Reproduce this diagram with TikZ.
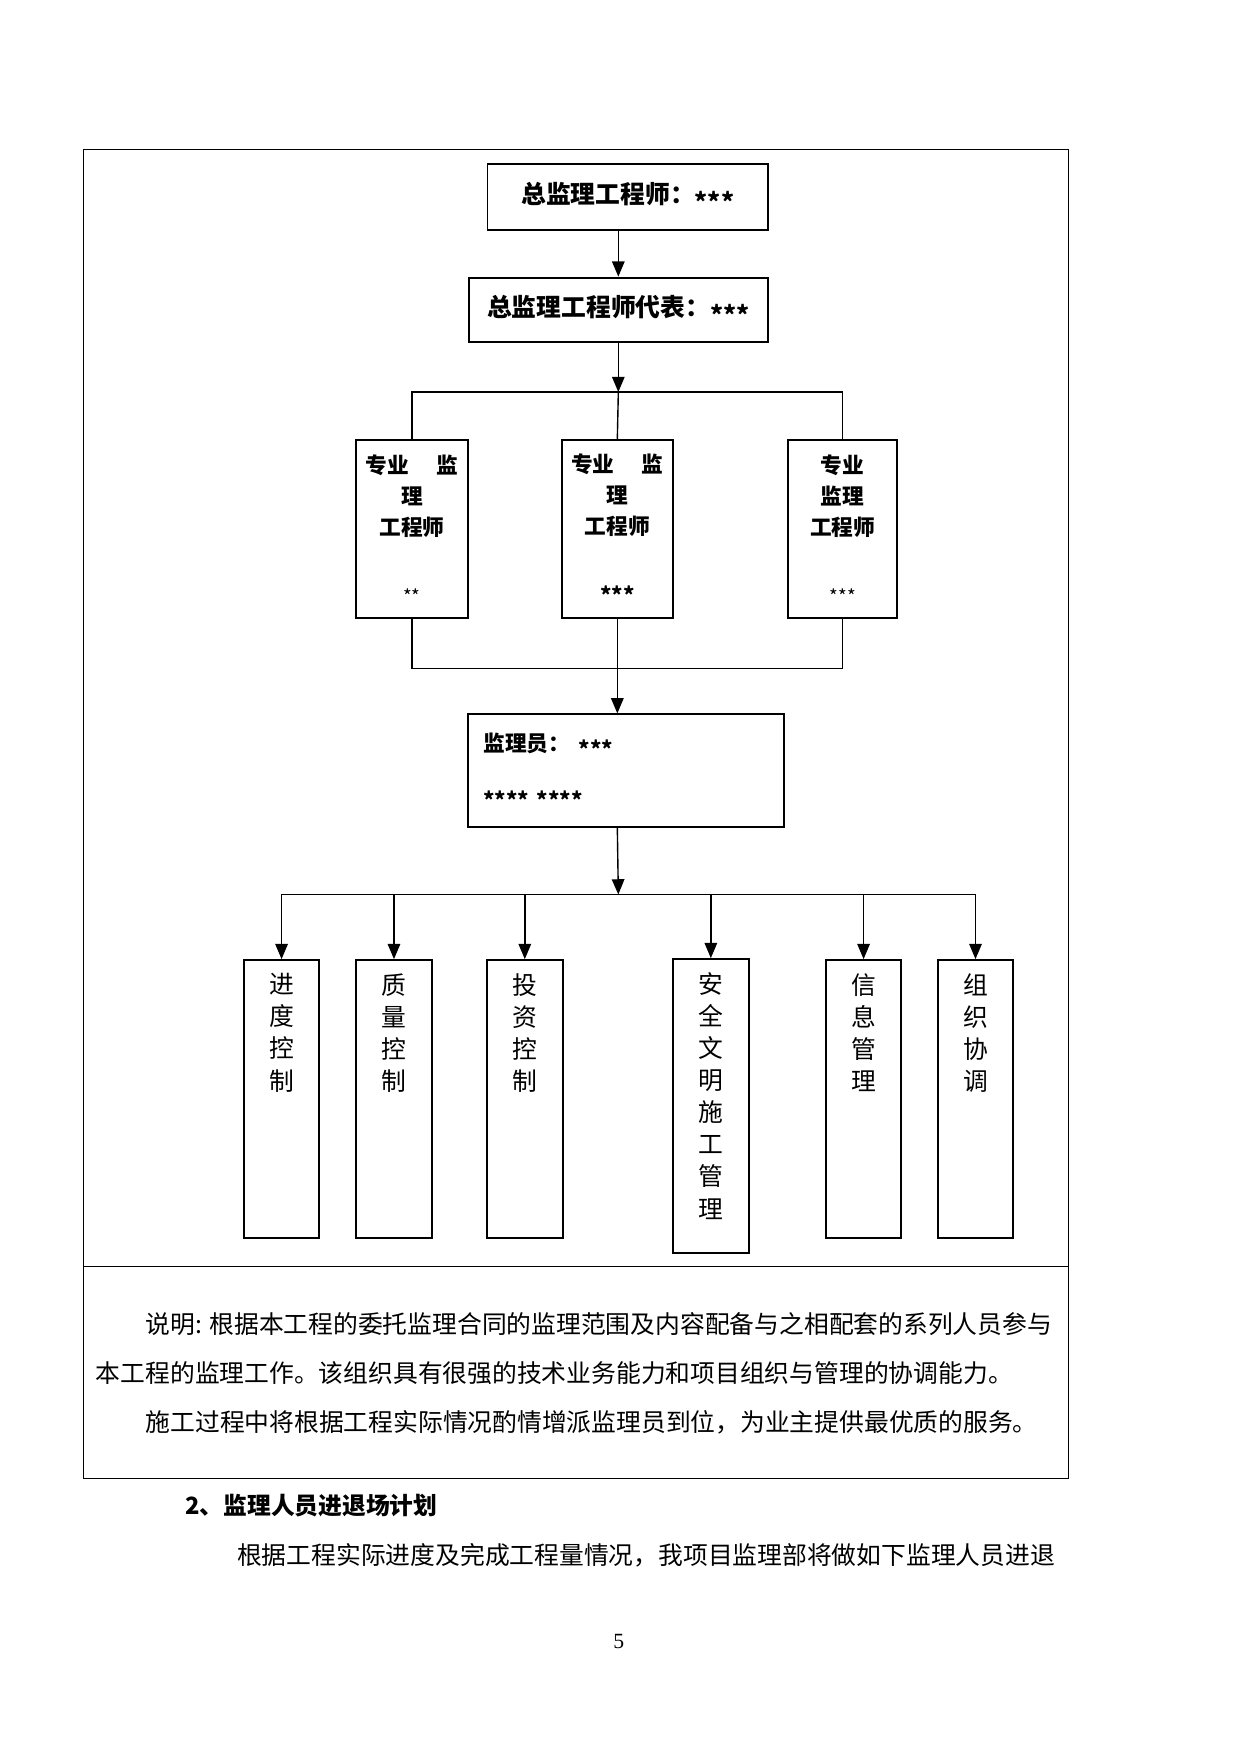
\documentclass[tikz,border=0pt]{standalone}
\usepackage{fontspec}
\setmainfont{Liberation Serif}
\newfontfamily\cjk{Noto Sans CJK SC}
\usepackage{tikz}
\usetikzlibrary{positioning, arrows}
\newcommand{\pxu}{0.48bp}
\newcommand{\lowstar}[1]{\raisebox{-0.3em}{#1}}
\tikzset {
    x=0.48bp,
    y=-0.48bp,
    >=triangle 45,
    link/.style={line width=0.67bp},
    frame/.style={line width=0.6bp},
    headbox/.style={draw, line width=0.96bp, inner sep=0pt,
        font=\cjk\bfseries\fontsize{12}{15}\selectfont},
    majorbox/.style={draw, line width=0.96bp, inner sep=0pt, align=center,
        minimum height=179*\pxu, font=\cjk\bfseries\fontsize{10.5}{15.1}\selectfont},
    colbox/.style={draw, line width=0.96bp, minimum width=76*\pxu, minimum height=279*\pxu},
    coltext/.style={inner sep=0pt, align=center, font=\cjk\fontsize{12}{15.55}\selectfont},
    bodytext/.style={inner sep=0pt, anchor=west, font=\cjk\fontsize{12}{15}\selectfont}
}

\begin{document}
\begin{tikzpicture}
                            \useasboundingbox (0,0) rectangle (1247,1763);

                            \draw[frame] (84,150) rectangle (1074,1486);
                            \draw[frame] (84,1273) -- (1074,1273);

                            \node[headbox, minimum width=282*\pxu, minimum height=66*\pxu] (zj) at (631,198) {总监理工程师：\lowstar{***}};
                            \node[headbox, minimum width=301*\pxu, minimum height=65*\pxu] (zjdb) at (621.5,311.5) {总监理工程师代表：\lowstar{***}};

                            \node[majorbox, minimum width=112*\pxu] (zyL) at (414,531.5) {专业\hspace{1.25em}监\\理\\工程师\\~\\{\mdseries\fontsize{9}{15}\selectfont\lowstar{**}}};
                            \node[majorbox, minimum width=111*\pxu] (zyM) at (620.5,531.5) {专业\hspace{1.25em}监\\理\\工程师\\~\\\lowstar{***}};
                            \node[majorbox, minimum width=110*\pxu] (zyR) at (847,531.5) {专业\\监理\\工程师\\~\\{\mdseries\fontsize{9}{15}\selectfont\lowstar{***}}};

                            \node[draw, line width=0.96bp, minimum width=318*\pxu, minimum height=113*\pxu, text width=286*\pxu,
                                align=left, inner sep=0pt, font=\cjk\bfseries\fontsize{10.5}{24.5}\selectfont] (jly) at (629,774.5) {监理员：\hspace{0.4em}\lowstar{***}\\\lowstar{**** ****}};

                            \node[colbox] (jd) at (283,1104.5) {};
                            \node[colbox] (zl) at (396,1104.5) {};
                            \node[colbox] (tz) at (527.5,1104.5) {};
                            \node[colbox, minimum height=295*\pxu] (aq) at (714.5,1111.5) {};
                            \node[colbox] (xx) at (868,1104.5) {};
                            \node[colbox] (zz) at (980.5,1104.5) {};

                            \node[coltext, below=6.7bp of jd.north] (jdt) {进\\度\\控\\制};
                            \node[coltext, below=6.7bp of zl.north] (zlt) {质\\量\\控\\制};
                            \node[coltext, below=6.7bp of tz.north] (tzt) {投\\资\\控\\制};
                            \node[coltext, below=6.7bp of aq.north] (aqt) {安\\全\\文\\明\\施\\工\\管\\理};
                            \node[coltext, below=6.7bp of xx.north] (xxt) {信\\息\\管\\理};
                            \node[coltext, below=6.7bp of zz.north] (zzt) {组\\织\\协\\调};

                            \coordinate (busA) at (621.5,394);
                            \coordinate (busB) at (621.5,672);
                            \coordinate (busC) at (621.5,899);

                            \draw[link, ->] (zj.south -| zjdb.north) -- (zjdb.north);
                            \draw[link, ->] (zjdb.south) -- (busA);
                            \draw[link] (zyL.north) |- (busA) -| (zyR.north);
                            \draw[link] (busA) -- (zyM.north);
                            \draw[link] (zyL.south) |- (busB) -| (zyR.south);
                            \draw[link, ->] (zyM.south) -- (zyM.south |- jly.north);
                            \draw[link, ->] (jly.south -| zyM.south) -- (busC);
                            \draw[link] (jd.north |- busC) -- (zz.north |- busC);
                            \draw[link, ->] (jd.north |- busC) -- (jd.north);
                            \draw[link, ->] (zl.north |- busC) -- (zl.north);
                            \draw[link, ->] (tz.north |- busC) -- (tz.north);
                            \draw[link, ->] (aq.north |- busC) -- (aq.north);
                            \draw[link, ->] (xx.north |- busC) -- (xx.north);
                            \draw[link, ->] (zz.north |- busC) -- (zz.north);

                            \node[bodytext] (note1) at (146,1331) {说明: 根据本工程的委托监理合同的监理范围及内容配备与之相配套的系列人员参与};
                            \node[bodytext] (note2) at (96,1380) {本工程的监理工作。该组织具有很强的技术业务能力和项目组织与管理的协调能力。};
                            \node[bodytext] (note3) at (146,1430) {施工过程中将根据工程实际情况酌情增派监理员到位，为业主提供最优质的服务。};

                            \node[bodytext, font=\cjk\bfseries\fontsize{11.5}{15}\selectfont] (plan) at (186,1513) {2、监理人员进退场计划};
                            \node[bodytext] (plantext) at (238,1563) {根据工程实际进度及完成工程量情况，我项目监理部将做如下监理人员进退};

                            \node[inner sep=0pt, font=\rmfamily\fontsize{10.5}{12}\selectfont] (page) at (622,1650) {5};
                        \end{tikzpicture}
\end{document}
